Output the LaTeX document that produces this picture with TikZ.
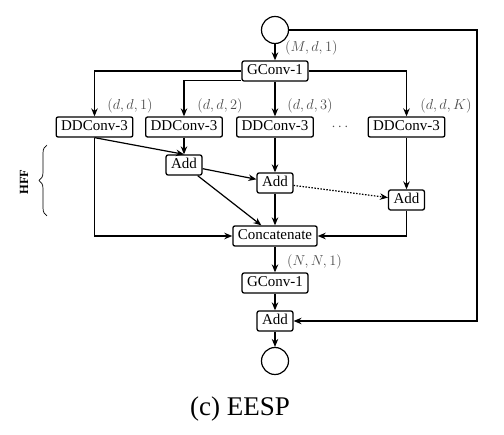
\documentclass[tikz,border=0pt]{standalone}
\usepackage[no-math]{fontspec}
\setmainfont{Liberation Serif}
\usetikzlibrary{arrows.meta,decorations.pathreplacing}
\definecolor{labc}{gray}{0.3}
\begin{document}
\begin{tikzpicture}[x=1pt,y=-1pt,
  box/.style={draw,line width=1.3pt,rounded corners=2pt,inner xsep=5pt,inner ysep=0pt,
    minimum height=20pt,text height=10.5pt,text depth=2.5pt,font=\fontsize{15}{18}\selectfont},
  circ/.style={draw,circle,line width=1.2pt,minimum size=27pt,inner sep=0pt},
  arr/.style={line width=1.2pt,-{Stealth[length=8pt,width=6.5pt]}},
  lab/.style={text=labc,inner sep=0pt,font=\fontsize{14.4}{16}\selectfont}]
\useasboundingbox (0,0) rectangle (504,435);
\node[circ] (c1) at (275,30) {};
\node[box] (g1) at (275,71) {GConv-1};
\node[box] (dd1) at (94.5,127) {DDConv-3};
\node[box] (dd2) at (184,127) {DDConv-3};
\node[box] (dd3) at (275,127) {DDConv-3};
\node[box] (dd4) at (406.5,127) {DDConv-3};
\node[box] (add1) at (184,165) {Add};
\node[box] (add2) at (275,183) {Add};
\node[box] (add3) at (406.5,200) {Add};
\node[box] (cat) at (275,236) {Concatenate};
\node[box] (g2) at (275,283) {GConv-1};
\node[box] (add4) at (275,321) {Add};
\node[circ] (c2) at (275,361) {};
\coordinate (sk) at (477,30);
\node[lab,anchor=west] (lm) at (285,48) {$(M,d,1)$};
\node[lab] (l1) at (130,106) {$(d,d,1)$};
\node[lab] (l2) at (220,106) {$(d,d,2)$};
\node[lab] (l3) at (310,106) {$(d,d,3)$};
\node[lab] (l4) at (446,106) {$(d,d,K)$};
\node[lab] (dots) at (340,127) {$\cdots$};
\node[lab,anchor=west] (ln) at (287,262) {$(N,N,1)$};
\node[rotate=90,font=\fontsize{12.5}{14}\bfseries\selectfont,inner sep=0pt] (hff) at (24,182) {HFF};
\coordinate (b1) at (47,216);
\coordinate (b2) at (47,145);
\draw[line width=0.7pt,decorate,decoration={brace,amplitude=8pt}] (b1) -- (b2);
\node[font=\fontsize{27}{30}\selectfont,inner sep=0pt] (cap) at (240,409) {(c) EESP};
\draw[arr] (c1) -- (g1);
\draw[arr] (g1.west) -| (dd1.north);
\draw[arr] ([yshift=1.5pt]g1.south west) -| (dd2.north);
\draw[arr] (g1) -- (dd3);
\draw[arr] (g1.east) -| (dd4.north);
\draw[arr] (dd1.south) -- (add1.north);
\draw[arr] (dd2) -- (add1);
\draw[arr] (add1) -- (add2);
\draw[arr,dash pattern=on 1.5pt off 1.5pt] (add2) -- (add3);
\draw[arr] (add1) -- (cat);
\draw[arr] (dd3) -- (add2);
\draw[arr] (add2) -- (cat);
\draw[arr] (dd4) -- (add3);
\draw[arr] (add3.south) |- (cat.east);
\draw[arr] (dd1.south) |- (cat.west);
\draw[arr] (cat) -- (g2);
\draw[arr] (g2) -- (add4);
\draw[arr] (add4) -- (c2);
\draw[arr] (c1.east) -- (sk) |- (add4.east);
\end{tikzpicture}
\end{document}
